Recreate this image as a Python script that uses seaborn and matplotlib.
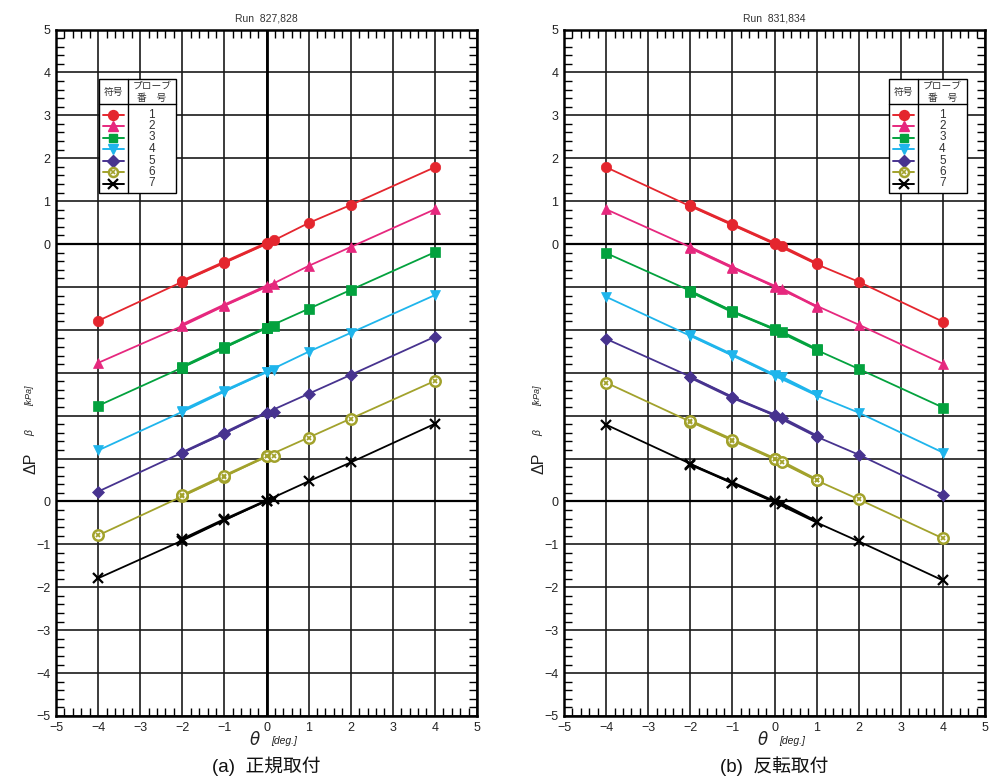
import numpy as np
import pandas as pd
import seaborn as sns
import matplotlib
matplotlib.use("Agg")
import matplotlib.pyplot as plt
from matplotlib.ticker import MultipleLocator, FixedLocator, FixedFormatter
from matplotlib.lines import Line2D
from matplotlib.patches import Rectangle

# ---------------- data ----------------
PROBES = ["1", "2", "3", "4", "5", "6", "7"]
THETA_RUN1 = [-4, -2, -1, 0, 1, 2, 4]

LEFT_TITLE = "Run  827,828"
LEFT_CAPTION = "(a)  正規取付"
LEFT_THETA_RUN2 = [-2, -1, 0, 0.17]
LEFT_RUN1 = [
    [-1.79, -0.88, -0.44, 0.00, 0.49, 0.91, 1.79],
    [-1.77, -0.91, -0.44, 0.00, 0.49, 0.93, 1.81],
    [-1.77, -0.88, -0.42, 0.05, 0.49, 0.93, 1.81],
    [-1.81, -0.91, -0.44, 0.02, 0.49, 0.93, 1.81],
    [-1.77, -0.86, -0.42, 0.07, 0.51, 0.95, 1.84],
    [-1.79, -0.88, -0.42, 0.05, 0.49, 0.93, 1.81],
    [-1.79, -0.91, -0.44, 0.02, 0.47, 0.91, 1.81],
]
LEFT_RUN2 = [
    [-0.86, -0.42, 0.02, 0.09],
    [-0.88, -0.42, 0.02, 0.07],
    [-0.86, -0.40, 0.05, 0.09],
    [-0.88, -0.42, 0.02, 0.07],
    [-0.86, -0.40, 0.07, 0.09],
    [-0.86, -0.40, 0.05, 0.07],
    [-0.88, -0.42, 0.02, 0.05],
]

RIGHT_TITLE = "Run  831,834"
RIGHT_CAPTION = "(b)  反転取付"
RIGHT_THETA_RUN2 = [-2, -1, 0, 0.17, 1]
RIGHT_RUN1 = [
    [1.79, 0.88, 0.44, 0.00, -0.47, -0.88, -1.81],
    [1.81, 0.93, 0.47, 0.00, -0.44, -0.88, -1.79],
    [1.79, 0.91, 0.44, 0.00, -0.47, -0.91, -1.81],
    [1.77, 0.86, 0.40, -0.07, -0.53, -0.93, -1.86],
    [1.79, 0.91, 0.44, 0.00, -0.49, -0.91, -1.84],
    [1.77, 0.86, 0.42, -0.02, -0.51, -0.95, -1.86],
    [1.79, 0.88, 0.42, -0.02, -0.49, -0.93, -1.84],
]
RIGHT_RUN2 = [
    [0.90, 0.46, 0.02, -0.05, -0.45],
    [0.91, 0.45, 0.02, -0.04, -0.46],
    [0.89, 0.42, 0.02, -0.05, -0.45],
    [0.88, 0.42, -0.05, -0.10, -0.51],
    [0.89, 0.42, 0.02, -0.05, -0.47],
    [0.88, 0.44, 0.00, -0.07, -0.49],
    [0.86, 0.44, 0.00, -0.05, -0.47],
]

Y_TICKS = list(range(-11, 6))
Y_TICK_LABELS = ["−5", "−4", "−3", "−2", "−1", "0", "", "", "", "", "", "0", "1", "2", "3", "4", "5"]
X_TICKS = list(range(-5, 6))
X_TICK_LABELS = ["−5", "−4", "−3", "−2", "−1", "0", "1", "2", "3", "4", "5"]

# ---------------- style ----------------
COLORS = ["#e4262e", "#e6287e", "#03a23e", "#1fb5ec", "#47338f", "#a2a22c", "#000000"]
MARKERS = ["o", "^", "s", "v", "D", "o", "x"]
MSIZE = [7.5, 7.5, 6.5, 7.5, 6.0, 7.5, 7.5]

sns.set_theme(style="white")
plt.rcParams["font.family"] = ["Liberation Sans", "Noto Sans CJK JP", "DejaVu Sans"]
plt.rcParams["axes.unicode_minus"] = True

fig = plt.figure(figsize=(9.91, 7.82), dpi=100)
W, H = 991.0, 782.0


def draw_probe(ax, k, thetas, vals, lw):
    off = -k
    df = pd.DataFrame({"theta": thetas, "dp": np.array(vals) + off})
    c = COLORS[k]
    m = MARKERS[k]
    if k == 5:
        sns.lineplot(data=df, x="theta", y="dp", ax=ax, color=c, lw=lw,
                     marker="o", markersize=MSIZE[k], markerfacecolor="white",
                     markeredgecolor=c, markeredgewidth=1.8, sort=False,
                     estimator=None, zorder=5)
        ax.plot(df["theta"], df["dp"], ls="none", marker="x", ms=3.5,
                mec=c, mew=1.3, zorder=6)
    elif k == 6:
        sns.lineplot(data=df, x="theta", y="dp", ax=ax, color=c, lw=lw,
                     marker="x", markersize=MSIZE[k], markeredgecolor=c,
                     markeredgewidth=1.6, sort=False, estimator=None, zorder=5)
    else:
        sns.lineplot(data=df, x="theta", y="dp", ax=ax, color=c, lw=lw,
                     marker=m, markersize=MSIZE[k], markeredgecolor=c,
                     markerfacecolor=c, markeredgewidth=0.5, sort=False,
                     estimator=None, zorder=5)


def draw_table(ax, x0, x1, xd):
    ytop = 1 - (79 - 29.5) / 686.5
    ybot = 1 - (193 - 29.5) / 686.5
    yhd = 1 - (104 - 29.5) / 686.5
    ax.add_patch(Rectangle((x0, ybot), x1 - x0, ytop - ybot, transform=ax.transAxes,
                           facecolor="white", edgecolor="black", lw=1.0, zorder=10))
    ax.add_line(Line2D([xd, xd], [ybot, ytop], transform=ax.transAxes, color="black",
                       lw=1.0, zorder=11))
    ax.add_line(Line2D([x0, x1], [yhd, yhd], transform=ax.transAxes, color="black",
                       lw=1.0, zorder=11))
    ax.text((x0 + xd) / 2, (ytop + yhd) / 2, "符号", transform=ax.transAxes,
            ha="center", va="center", fontsize=7, zorder=12, color="#333333")
    ax.text((xd + x1) / 2, (ytop + yhd) / 2 + 0.008, "プローブ", transform=ax.transAxes,
            ha="center", va="center", fontsize=7, zorder=12, color="#333333")
    ax.text((xd + x1) / 2, (ytop + yhd) / 2 - 0.009, "番　号", transform=ax.transAxes,
            ha="center", va="center", fontsize=7, zorder=12, color="#333333")
    pad = 0.01
    for i, lab in enumerate(PROBES):
        y = 1 - (114.5 + 11.5 * i - 29.5) / 686.5
        c = COLORS[i]
        ax.add_line(Line2D([x0 + pad, xd - pad], [y, y], transform=ax.transAxes,
                           color=c, lw=1.4, zorder=12))
        xm = (x0 + xd) / 2
        if i == 5:
            ax.add_line(Line2D([xm], [y], transform=ax.transAxes, ls="none", marker="o",
                               ms=6.5, mfc="white", mec=c, mew=1.8, zorder=13))
            ax.add_line(Line2D([xm], [y], transform=ax.transAxes, ls="none", marker="x",
                               ms=3, mec=c, mew=1.2, zorder=14))
        elif i == 6:
            ax.add_line(Line2D([xm], [y], transform=ax.transAxes, ls="none", marker="x",
                               ms=7, mec=c, mew=1.6, zorder=13))
        else:
            ax.add_line(Line2D([xm], [y], transform=ax.transAxes, ls="none",
                               marker=MARKERS[i], ms=MSIZE[i] * 0.95, mfc=c, mec=c,
                               zorder=13))
        ax.text((xd + x1) / 2, y, lab, transform=ax.transAxes, ha="center",
                va="center", fontsize=8.5, color="#333333", zorder=13)


def setup_axes(ax, title, caption, table_x, left_zero_bold):
    ax.set_xlim(-5, 5)
    ax.set_ylim(-11, 5)
    ax.xaxis.set_major_locator(FixedLocator(X_TICKS))
    ax.xaxis.set_major_formatter(FixedFormatter(X_TICK_LABELS))
    ax.yaxis.set_major_locator(FixedLocator(Y_TICKS))
    ax.yaxis.set_major_formatter(FixedFormatter(Y_TICK_LABELS))
    ax.xaxis.set_minor_locator(MultipleLocator(0.2))
    ax.yaxis.set_minor_locator(MultipleLocator(0.2))
    ax.tick_params(which="both", direction="in", top=True, right=True,
                   left=True, bottom=True, colors="black", labelcolor="#222222")
    ax.tick_params(which="major", length=0, labelsize=9, pad=4)
    ax.tick_params(which="minor", length=6, width=1.0)
    ax.grid(True, which="major", color="#1a1a1a", lw=1.2, zorder=1)
    ax.set_axisbelow(True)
    for s in ax.spines.values():
        s.set_color("black")
        s.set_linewidth(1.8)
    if left_zero_bold:
        ax.axvline(0, color="black", lw=2.0, zorder=2)
    ax.axhline(0, color="black", lw=1.6, zorder=2)
    ax.axhline(-6, color="black", lw=1.6, zorder=2)
    ax.set_xlabel("")
    ax.set_ylabel("")
    ax.text(0.5, 1.009, title, transform=ax.transAxes, ha="center", va="bottom",
            fontsize=7.5, color="#333333")
    draw_table(ax, *table_x)


panels = [
    (56, LEFT_TITLE, LEFT_CAPTION, LEFT_RUN1, LEFT_THETA_RUN2, LEFT_RUN2,
     (0.102, 0.284, 0.171), True),
    (564, RIGHT_TITLE, RIGHT_CAPTION, RIGHT_RUN1, RIGHT_THETA_RUN2, RIGHT_RUN2,
     (0.772, 0.957, 0.841), False),
]

for (px0, title, caption, run1, th2, run2, tbl, zb) in panels:
    ax = fig.add_axes([px0 / W, (H - 716) / H, 421 / W, 686.5 / H])
    for k in range(7):
        draw_probe(ax, k, THETA_RUN1, run1[k], 1.3)
        draw_probe(ax, k, th2, run2[k], 1.9)
    setup_axes(ax, title, caption, tbl, zb)
    cx = (px0 + 210.5) / W
    # x label
    fig.text(cx - 0.012, 1 - 740 / H, "θ", ha="center", va="center", fontsize=12,
             style="italic", color="#222222", family=["DejaVu Sans"])
    fig.text(cx + 0.018, 1 - 741 / H, "[deg.]", ha="center", va="center", fontsize=7.5,
             style="italic", color="#222222")
    fig.text(cx, 1 - 766 / H, caption, ha="center", va="center", fontsize=13.5,
             color="#111111")
    # y label
    lx = (px0 - 25) / W
    fig.text(lx, 1 - 463 / H, "ΔP", rotation=90, ha="center", va="center",
             fontsize=11.5, color="#222222")
    fig.text(lx - 0.001, 1 - 433 / H, "β", rotation=90, ha="center", va="center",
             fontsize=7.5, style="italic", color="#222222")
    fig.text(lx - 0.001, 1 - 396 / H, "[kPa]", rotation=90, ha="center", va="center",
             fontsize=6.5, style="italic", color="#222222")

fig.savefig("out.png", dpi=100, facecolor="white")
